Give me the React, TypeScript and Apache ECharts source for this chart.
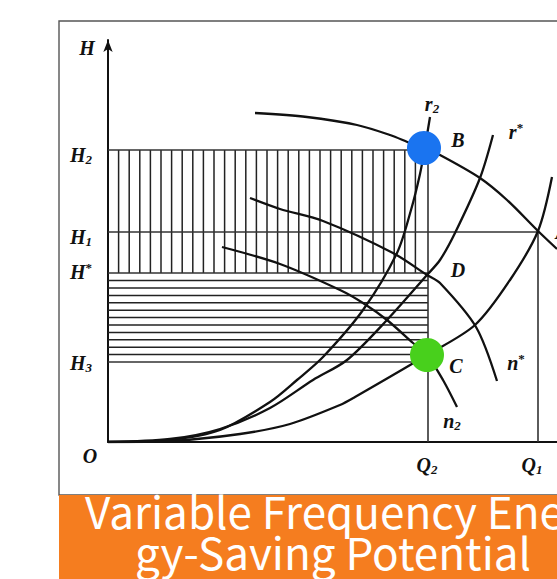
import React, { useEffect, useRef } from "react";
import * as echarts from "echarts";

// ---- key operating values (axis units: 1 unit = 1 px of the reference) ----
const Q1 = 430;
const Q2 = 320;
const H2 = 292;
const H1 = 210;
const HS = 169; // H*
const H3 = 80;

// ---- tick labels ----
const yTickValues = [287, 205, 170, 79];
const yTickLabels = ["{i|H}{sub|2}", "{i|H}{sub|1}", "{i|H}{sup|*}", "{i|H}{sub|3}"];
const xTickValues = [319, 424];
const xTickLabels = ["{i|Q}{sub|2}", "{i|Q}{sub|1}"];

// ---- pump curves (head vs flow) ----
const pumpN1 = [[147, 329], [199, 325], [249, 317], [282, 307], [302, 299], [316, 294], [332, 287], [372, 264], [399, 242], [430, 211], [449, 193]];
const pumpNStar = [[142, 244], [172, 233], [215, 221], [285, 189], [319, 167], [332, 159], [368, 115], [389, 61]];
const pumpN2 = [[114, 195], [172, 178], [232, 152], [255, 139], [279, 122], [305, 99], [319, 87], [335, 62], [349, 35]];

// ---- system curves ----
const sysR2 = [[0, 0], [62, 2], [112, 12], [162, 40], [189, 62], [215, 85], [255, 132], [289, 189], [303, 232], [312, 268], [317, 295], [322, 325]];
const sysRStar = [[0, 0], [62, 3], [112, 13], [162, 34], [205, 62], [239, 82], [279, 122], [319, 167], [332, 182], [347, 209], [372, 264], [385, 307]];
const sysR1 = [[0, 0], [62, 1], [132, 8], [182, 18], [232, 37], [247, 45], [319, 87], [367, 117], [402, 162], [430, 211], [444, 265]];

// ---- operating points ----
const pointB = [316, 294];
const pointC = [319, 87];

// ---- point / curve annotations ----
const annotations = [
  { text: "{i|r}{sub|2}", pos: [324, 338] },
  { text: "{i|B}", pos: [350, 302] },
  { text: "{i|r}{sup|*}", pos: [408, 310] },
  { text: "{i|D}", pos: [350, 172] },
  { text: "{i|C}", pos: [348, 76] },
  { text: "{i|n}{sup|*}", pos: [408, 79] },
  { text: "{i|n}{sub|2}", pos: [344, 21] },
  { text: "{i|A}", pos: [447, 210], left: true },
];

const titleLine1 = "Variable Frequency Ener";
const titleLine2 = "gy-Saving Potential";

const SERIF = "'Liberation Serif', 'DejaVu Serif', serif";
const INK = "#111111";

const richStyles = {
  i: { fontFamily: SERIF, fontStyle: "italic", fontWeight: "bold", fontSize: 20, color: INK },
  sub: { fontFamily: SERIF, fontStyle: "italic", fontWeight: "bold", fontSize: 13, color: INK, padding: [9, 0, 0, 0] },
  sup: { fontFamily: SERIF, fontWeight: "bold", fontSize: 13, color: INK, padding: [0, 0, 9, 0] },
};

function hatchSeries(region: number[], vertical: boolean, step: number) {
  return {
    type: "custom",
    silent: true,
    z: 1,
    encode: { x: [0, 1], y: [2, 3] },
    data: [region],
    renderItem: (params: any, api: any) => {
      const a = api.coord([api.value(0), api.value(2)]);
      const b = api.coord([api.value(1), api.value(3)]);
      const children: any[] = [];
      const style = { stroke: "#222", lineWidth: 1.5 };
      if (vertical) {
        for (let x = a[0] + step; x < b[0] - 2; x += step) {
          children.push({ type: "line", shape: { x1: x, y1: a[1], x2: x, y2: b[1] }, style });
        }
      } else {
        for (let y = a[1] - step; y > b[1] + 2; y -= step) {
          children.push({ type: "line", shape: { x1: a[0], y1: y, x2: b[0], y2: y }, style });
        }
      }
      return { type: "group", children };
    },
  };
}

function guide(data: number[][]) {
  return {
    type: "line",
    data,
    symbol: "none",
    silent: true,
    z: 2,
    lineStyle: { color: "#333", width: 1.6 },
  };
}

function curve(data: number[][]) {
  return {
    type: "line",
    data,
    symbol: "none",
    smooth: 0.3,
    silent: true,
    z: 3,
    lineStyle: { color: INK, width: 2.3 },
  };
}

export default function App() {
  const ref = useRef<HTMLDivElement>(null);
  useEffect(() => {
    const chart = echarts.init(ref.current!, null, { renderer: "svg" });
    const titleFont = "44px 'Noto Sans CJK SC', 'Noto Sans', sans-serif";
    const option: any = {
      animation: false,
      backgroundColor: "#ffffff",
      grid: { left: 108, right: 0, top: 40, bottom: 137, containLabel: false },
      xAxis: {
        type: "value",
        min: 0,
        max: 449,
        axisLine: { show: true, lineStyle: { color: INK, width: 2 } },
        axisTick: { show: false },
        splitLine: { show: false },
        axisLabel: {
          customValues: xTickValues,
          margin: 12,
          formatter: (v: number) => xTickLabels[xTickValues.indexOf(v)] ?? "",
          rich: richStyles,
        },
      },
      yAxis: {
        type: "value",
        min: 0,
        max: 402,
        axisLine: {
          show: true,
          symbol: ["none", "arrow"],
          symbolSize: [7, 12],
          lineStyle: { color: INK, width: 2 },
        },
        axisTick: { show: false },
        splitLine: { show: false },
        axisLabel: {
          customValues: yTickValues,
          margin: 16,
          formatter: (v: number) => yTickLabels[yTickValues.indexOf(v)] ?? "",
          rich: richStyles,
        },
      },
      graphic: [
        {
          type: "rect",
          silent: true,
          z: -1,
          shape: { x: 59, y: 21, width: 600, height: 474 },
          style: { fill: "none", stroke: "#555", lineWidth: 1.4 },
        },
        {
          type: "rect",
          silent: true,
          shape: { x: 59, y: 495, width: 600, height: 90 },
          style: { fill: "#F57D1F" },
        },
        {
          type: "text",
          silent: true,
          x: 333,
          y: 510,
          style: {
            text: titleLine1,
            fill: "#ffffff",
            font: titleFont,
            lineHeight: 40,
            textAlign: "center",
            textVerticalAlign: "middle",
          },
        },
        {
          type: "text",
          silent: true,
          x: 333,
          y: 551,
          style: {
            text: titleLine2,
            fill: "#ffffff",
            font: titleFont,
            lineHeight: 40,
            textAlign: "center",
            textVerticalAlign: "middle",
          },
        },
        {
          type: "text",
          silent: true,
          x: 87,
          y: 48,
          style: {
            text: "H",
            fill: INK,
            font: "italic bold 20px " + SERIF,
            textAlign: "center",
            textVerticalAlign: "middle",
          },
        },
        {
          type: "text",
          silent: true,
          x: 90,
          y: 456,
          style: {
            text: "O",
            fill: INK,
            font: "italic bold 20px " + SERIF,
            textAlign: "center",
            textVerticalAlign: "middle",
          },
        },
      ],
      series: [
        hatchSeries([0, Q2, HS, H2], true, 10.6),
        hatchSeries([0, Q2, H3, HS], false, 7.4),
        guide([[0, H2], [Q2, H2]]),
        guide([[0, H1], [Q1, H1]]),
        guide([[0, HS], [Q2, HS]]),
        guide([[0, H3], [Q2, H3]]),
        guide([[Q2, 0], [Q2, H2]]),
        guide([[Q1, 0], [Q1, H1]]),
        curve(pumpN1),
        curve(pumpNStar),
        curve(pumpN2),
        curve(sysR2),
        curve(sysRStar),
        curve(sysR1),
        {
          type: "scatter",
          silent: true,
          z: 5,
          symbolSize: 34,
          data: [
            { value: pointB, itemStyle: { color: "#1A74F0", opacity: 1 } },
            { value: pointC, itemStyle: { color: "#48D01C", opacity: 1 } },
          ],
        },
        {
          type: "scatter",
          silent: true,
          z: 6,
          symbolSize: 1,
          itemStyle: { color: "rgba(0,0,0,0)", opacity: 1 },
          data: annotations.map((a) => ({
            value: a.pos,
            label: {
              show: true,
              position: a.left ? "right" : "inside",
              distance: 0,
              formatter: a.text,
              rich: richStyles,
            },
          })),
        },
      ],
    };
    chart.setOption(option);
    return () => chart.dispose();
  }, []);
  return (
    <div
      ref={ref}
      style={{ position: "fixed", left: 0, top: 0, width: 557, height: 579, background: "#fff" }}
    />
  );
}
